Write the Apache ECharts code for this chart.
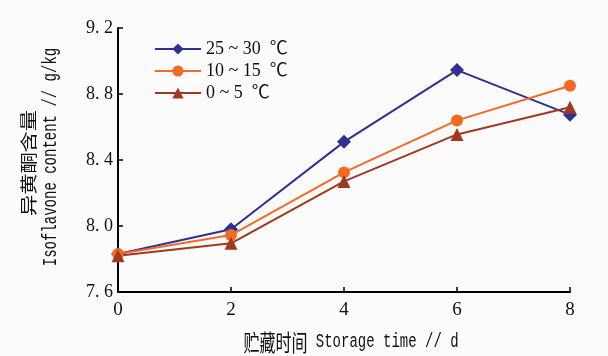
<!DOCTYPE html>
<html>
<head>
<meta charset="utf-8">
<script src="https://cdn.jsdelivr.net/npm/echarts@6/dist/echarts.min.js"></script>
<style>
    html, body { margin: 0; padding: 0; background: #fff; }
    #chart { width: 608px; height: 356px; }
</style>
</head>
<body>
<div id="chart"></div>
<script>
// 贮藏时间 (d)
const days = [0, 2, 4, 6, 8];
// 异黄酮含量 g/kg
const t25_30 = [7.83, 7.98, 8.51, 8.945, 8.675];
const t10_15 = [7.83, 7.945, 8.325, 8.64, 8.85];
const t0_5 = [7.82, 7.895, 8.27, 8.555, 8.72];
const seriesNames = ['25 ~ 30  ℃', '10 ~ 15  ℃', '0 ~ 5  ℃'];

const serif = '"Liberation Serif", "Noto Sans CJK SC", serif';
const cjk = '"Noto Sans CJK SC"';
const mono = '"Liberation Mono"';

function pairs(vals) {
    return days.map((d, i) => [d, vals[i]]);
}

let chart = echarts.init(document.getElementById('chart'));
chart.setOption({
    backgroundColor: '#fbfbfb',
    animation: false,
    grid: { left: 118, right: 38, top: 28, bottom: 64 },
    legend: {
        data: seriesNames,
        orient: 'vertical',
        left: 149,
        top: 35,
        itemWidth: 46,
        itemHeight: 14,
        itemGap: 4,
        textStyle: { fontFamily: serif, fontSize: 18, color: '#111' }
    },
    xAxis: {
        type: 'value',
        min: 0,
        max: 8,
        interval: 2,
        splitLine: { show: false },
        axisLine: { lineStyle: { color: '#000', width: 2 } },
        axisTick: { inside: true, length: 5, lineStyle: { color: '#000', width: 1.5 } },
        axisLabel: { fontFamily: serif, fontSize: 19, color: '#111', margin: 9 }
    },
    yAxis: {
        type: 'value',
        min: 7.6,
        max: 9.2,
        interval: 0.4,
        splitLine: { show: false },
        axisLine: { show: true, lineStyle: { color: '#000', width: 2 } },
        axisTick: { show: true, inside: true, length: 5, lineStyle: { color: '#000', width: 1.5 } },
        axisLabel: {
            fontFamily: serif, fontSize: 18, color: '#111', margin: 5,
            formatter: v => v.toFixed(1).replace('.', '. ')
        }
    },
    graphic: [
        {
            type: 'text', x: 29, y: 163, rotation: Math.PI / 2, scaleX: 1.25,
            style: { text: '异黄酮含量', font: '17px ' + cjk, fill: '#111', textAlign: 'center', textVerticalAlign: 'middle' }
        },
        {
            type: 'text', x: 50, y: 157, rotation: Math.PI / 2, scaleY: 1.5,
            style: { text: 'Isoflavone content // g/kg', font: '14px ' + mono, fill: '#111', textAlign: 'center', textVerticalAlign: 'middle' }
        },
        {
            type: 'text', x: 351, y: 342, scaleY: 1.45,
            style: {
                text: '{cn|贮藏时间}{en| Storage time // d}',
                textAlign: 'center', textVerticalAlign: 'middle',
                rich: {
                    cn: { font: '16px ' + cjk, fill: '#111' },
                    en: { font: '14px ' + mono, fill: '#111' }
                }
            }
        }
    ],
    series: [
        {
            name: seriesNames[0],
            type: 'line',
            data: pairs(t25_30),
            symbol: 'diamond',
            symbolSize: 14,
            color: '#2e3192',
            lineStyle: { width: 2 }
        },
        {
            name: seriesNames[1],
            type: 'line',
            data: pairs(t10_15),
            symbol: 'circle',
            symbolSize: 12,
            color: '#f26a24',
            lineStyle: { width: 2 }
        },
        {
            name: seriesNames[2],
            type: 'line',
            data: pairs(t0_5),
            symbol: 'triangle',
            symbolSize: 13,
            color: '#a0391d',
            lineStyle: { width: 2 }
        }
    ]
});
</script>
</body>
</html>
